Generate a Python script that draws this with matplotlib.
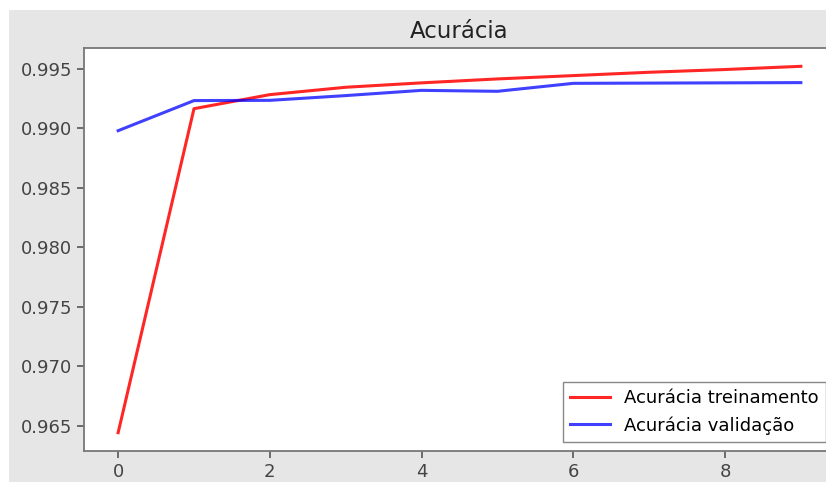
import matplotlib.pyplot as plt
from matplotlib.patches import Rectangle

# Accuracy per epoch
epochs = list(range(10))
acc_train = [0.96440, 0.99163, 0.99281, 0.99343, 0.99380, 0.99413, 0.99441, 0.99469, 0.99492, 0.99519]
acc_val = [0.98978, 0.99231, 0.99233, 0.99273, 0.99317, 0.99309, 0.99376, 0.99378, 0.99380, 0.99382]

fig = plt.figure(figsize=(8.26, 4.82), dpi=100, facecolor='white')
# gray notebook background, screenshot has a thin white margin top/left
fig.patches.append(Rectangle((9 / 826, 0), 1, 1 - 10 / 482, transform=fig.transFigure,
                             facecolor='#e6e6e6', edgecolor='none', zorder=-10))

ax = fig.add_axes([84 / 826, 31 / 482, 751 / 826, 403 / 482])
ax.plot(epochs, acc_train, color='red', lw=2.2, alpha=0.85, label='Acurácia treinamento')
ax.plot(epochs, acc_val, color='blue', lw=2.2, alpha=0.75, label='Acurácia validação')

ax.set_title('Acurácia', fontsize=16.5, color='#222222', pad=7)
ax.set_xticks([0, 2, 4, 6, 8])
ax.set_yticks([0.965, 0.970, 0.975, 0.980, 0.985, 0.990, 0.995])
ax.tick_params(labelsize=13, colors='#555555', labelcolor='#444444', length=5, width=1.2)
for s in ax.spines.values():
    s.set_color('#777777')
    s.set_linewidth(1.3)

ax.legend(loc='lower right', fontsize=13, fancybox=False, framealpha=1,
          edgecolor='#888888', handlelength=2.2)

fig.savefig('out.png', dpi=100)
